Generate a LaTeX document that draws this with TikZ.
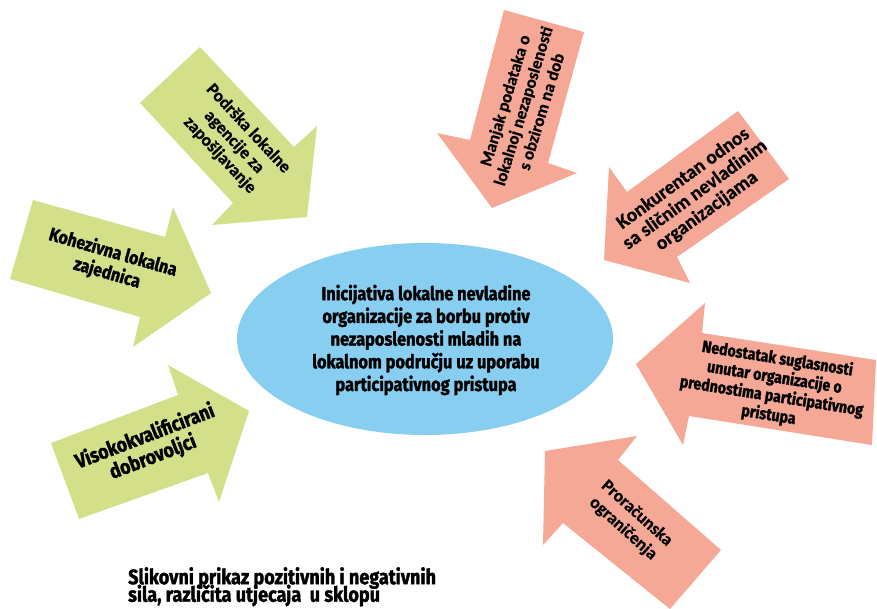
\documentclass[tikz,border=0pt]{standalone}
\usepackage{fontspec}
\setmainfont{Fira Sans}[FakeStretch=0.86, BoldFeatures={FakeBold=1.6}]
\newfontfamily\calfont{Carlito}[BoldFeatures={FakeBold=0.8}]
\usetikzlibrary{shapes.geometric}
\definecolor{grn}{RGB}{212,223,138}
\definecolor{pnk}{RGB}{245,168,150}
\definecolor{blu}{RGB}{135,206,240}
\newcommand\tightlines{\lineskiplimit=-30pt\relax\lineskip=0pt\relax}
\begin{document}
\begin{tikzpicture}[x=1pt,y=-1pt,
  lbl/.style={font=\bfseries, align=center, text=black, inner sep=0pt},
  posarrow/.style={fill=grn},
  negarrow/.style={fill=pnk}]
\useasboundingbox (0,0) rectangle (877,609);
% positive (green) arrows
\fill[posarrow] (200,47) -- (140,103) -- (233,203) -- (212,225) -- (307,217) -- (317,126) -- (294,147) -- cycle;
\fill[posarrow] (33,200) -- (165,237) -- (173,207) -- (211,293) -- (133,347) -- (140,317) -- (10,279) -- cycle;
\fill[posarrow] (51,443) -- (178,395) -- (168,365) -- (249,411) -- (219,502) -- (208,473) -- (79,519) -- cycle;
% negative (pink) arrows
\fill[negarrow] (504,10) -- (584,32) -- (548,163) -- (577,173) -- (492,208) -- (437,133) -- (470,140) -- cycle;
\fill[negarrow] (738,111) -- (789,179) -- (677,257) -- (690,283) -- (604,260) -- (609,167) -- (627,192) -- cycle;
\fill[negarrow] (876,360) -- (872,445) -- (689,416) -- (683,445) -- (636,364) -- (705,303) -- (702,333) -- cycle;
\fill[negarrow] (545,451) -- (637,436) -- (618,460) -- (721,550) -- (670,609) -- (563,523) -- (543,545) -- cycle;
% centre
\node[ellipse, fill=blu, minimum width=376pt, minimum height=192pt, inner sep=0pt] (c) at (425,339) {};
\node[lbl, font=\bfseries\fontsize{19}{22.7}\selectfont] (ct) at (426,340)
  {Inicijativa lokalne nevladine\\organizacije za borbu protiv\\nezaposlenosti mladih na\\lokalnom području uz uporabu\\participativnog pristupa};
% labels
\node[lbl, font=\calfont\bfseries\fontsize{17.5}{19.5}\selectfont, rotate=-47] (p1) at (234,142)
  {Podrška lokalne\\agencije za\\zapošljavanje};
\node[lbl, font=\bfseries\fontsize{18.5}{21.5}\selectfont, rotate=-16] (p2) at (110,263)
  {Kohezivna lokalna\\zajednica};
\node[lbl, font=\bfseries\fontsize{20.5}{22}\selectfont, rotate=21] (p3) at (149,447)
  {Visokokvalificirani\\dobrovoljci};
\node[lbl, font=\calfont\bfseries\fontsize{17}{19}\selectfont, rotate=73] (n1) at (523,106)
  {Manjak podataka o\\lokalnoj nezaposlenosti\\s obzirom na dob};
\node[lbl, font=\calfont\bfseries\fontsize{19.5}{20}\selectfont, rotate=36] (n2) at (695,195)
  {Konkurentan odnos\\sa sličnim nevladinim\\organizacijama};
\node[lbl, font=\bfseries\fontsize{16.5}{19}\selectfont, rotate=-9] (n3) at (773,387)
  {Nedostatak suglasnosti\\unutar organizacije o\\prednostima participativnog\\pristupa};
\node[lbl, font=\calfont\bfseries\fontsize{17.5}{20.5}\selectfont, rotate=-42] (n4) at (630,521)
  {Proračunska\\ograničenja};
% caption
\node[lbl, align=left, anchor=north west, font=\bfseries\fontsize{21}{17.5}\selectfont\tightlines] (cap) at (128,567)
  {Slikovni prikaz pozitivnih i negativnih\\sila, različita utjecaja\ \ u sklopu};
\end{tikzpicture}
\end{document}
